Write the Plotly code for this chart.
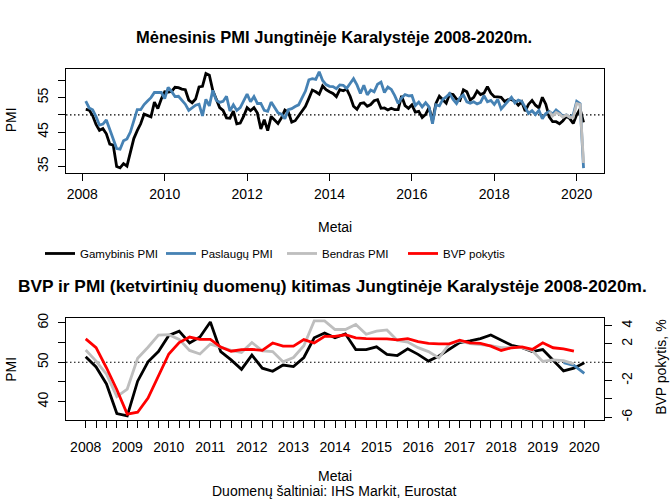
import plotly.graph_objects as go
import pandas as pd

W, H = 670, 502

# ---------------- monthly data (Feb 2008 - Mar 2020) ----------------
months = pd.period_range("2008-02", "2020-03", freq="M")
mfg_m = [
    51.6, 51.4, 49.8, 47.2, 45.5, 46.0, 44.5, 41.5, 41.2, 35.0, 34.6,
    35.8, 35.1, 39.1, 43.1, 45.4, 47.4, 50.2, 49.7, 49.4, 53.7, 51.8, 54.6,
    56.7, 56.6, 56.8, 58.0, 57.9, 57.5, 57.3, 54.3, 53.5, 54.6, 58.1, 58.3,
    62.0, 61.5, 57.1, 54.6, 52.1, 51.3, 49.1, 49.0, 51.1, 47.4, 47.6, 49.6,
    52.1, 51.2, 52.1, 50.5, 45.9, 48.6, 45.4, 49.5, 48.4, 47.5, 49.1, 51.4,
    50.8, 47.9, 48.3, 49.8, 51.3, 52.5, 54.8, 57.2, 56.7, 56.0, 58.4, 57.3,
    56.7, 56.2, 55.3, 57.3, 57.0, 57.5, 55.4, 52.5, 51.6, 53.3, 53.5, 52.5,
    53.0, 54.1, 54.4, 51.9, 52.0, 51.4, 51.9, 51.5, 51.5, 55.5, 52.7, 51.9,
    52.9, 50.8, 51.0, 49.2, 50.1, 52.1, 48.2, 53.3, 55.4, 54.3, 53.4, 56.1,
    55.9, 54.6, 54.2, 57.3, 56.7, 54.3, 55.1, 56.9, 55.9, 56.3, 58.2, 56.3,
    55.3, 55.2, 55.1, 53.9, 54.4, 54.4, 54.0, 52.8, 53.8, 51.1, 53.1, 54.2,
    52.8, 52.0, 55.1, 53.1, 49.4, 48.0, 48.0, 47.4, 48.3, 49.6, 48.9, 47.5,
    50.0, 51.7, 47.8,
]
serv_m = [
    54.0, 52.0, 51.5, 49.5, 47.0, 47.3, 48.5, 46.0, 43.0, 40.2, 40.0,
    42.5, 43.0, 45.0, 48.0, 51.5, 51.5, 53.0, 54.0, 55.0, 56.5, 56.5, 56.5,
    54.7, 58.0, 56.8, 55.3, 55.4, 54.4, 53.1, 51.3, 52.1, 52.8, 53.1, 49.7,
    54.5, 52.6, 57.1, 54.3, 53.6, 53.9, 55.4, 51.1, 52.9, 51.3, 52.1, 54.0,
    56.0, 53.8, 55.3, 53.3, 53.3, 51.3, 51.0, 53.7, 52.2, 50.6, 50.2, 48.9,
    51.5, 51.8, 52.4, 52.9, 54.9, 56.9, 60.2, 60.5, 60.3, 62.5, 60.0, 58.8,
    58.3, 58.2, 57.6, 58.7, 58.6, 57.7, 59.1, 60.5, 58.7, 56.2, 58.6, 55.8,
    57.2, 56.7, 58.9, 59.5, 56.5, 58.1, 57.4, 55.6, 53.3, 54.9, 55.9, 55.5,
    55.6, 52.7, 53.7, 52.3, 53.5, 52.3, 47.4, 52.9, 52.6, 54.5, 55.2, 56.2,
    54.5, 53.3, 55.0, 55.8, 53.8, 53.4, 53.8, 53.2, 53.6, 55.6, 53.8, 54.2,
    53.0, 54.5, 51.7, 52.8, 54.0, 55.1, 53.5, 54.3, 53.9, 52.2, 50.4, 51.2,
    50.1, 51.3, 48.9, 50.4, 51.0, 50.2, 51.4, 50.6, 49.5, 50.0, 49.3, 50.0,
    53.9, 53.2, 34.5,
]
comp_months = pd.period_range("2019-05", "2020-03", freq="M")
comp_m = [50.9, 49.7, 50.7, 50.2, 49.3, 50.0, 49.3, 49.3, 53.3, 53.0, 36.0]

# ---------------- quarterly data ----------------
quarters = pd.period_range("2008Q1", "2020Q1", freq="Q")
mfg_q = [
    51.4, 48.8, 44.5, 37.0,
    36.4, 45.2, 50.1, 52.7,
    56.8, 57.9, 54.9, 56.4,
    60.2, 52.7, 50.6, 48.2,
    51.8, 48.5, 47.7, 49.3,
    48.9, 51.2, 56.2, 57.4,
    56.2, 57.2, 53.2, 53.2,
    53.9, 52.0, 51.7, 53.4,
    52.0, 50.3, 51.6, 53.4,
    55.0, 55.4, 56.0, 56.9,
    55.6, 54.3, 53.7, 52.7,
    53.2, 50.6, 47.8, 48.5,
    49.9,
]
comp_quarters = pd.period_range("2008Q1", "2019Q4", freq="Q")
comp_q = [
    53.1, 50.3, 47.0, 41.3,
    43.2, 51.0, 53.8, 56.9,
    57.0, 55.8, 53.0, 52.1,
    54.6, 53.8, 53.0, 52.5,
    55.0, 52.9, 52.7, 50.1,
    51.2, 54.2, 60.5, 60.5,
    58.3, 58.3, 59.6, 57.1,
    57.9, 58.2, 55.5, 55.1,
    53.7, 52.7, 51.1, 54.6,
    55.4, 54.7, 54.4, 54.2,
    53.7, 53.7, 53.7, 52.9,
    50.2, 50.6, 50.4, 49.6,
]
serv_quarters = pd.period_range("2019Q3", "2020Q1", freq="Q")
serv_q = [49.9, 49.2, 47.2]
gdp_quarters = pd.period_range("2008Q1", "2019Q4", freq="Q")
gdp_q = [
    2.55, 1.6, -0.6, -3.0,
    -5.65, -5.45, -3.9, -1.5,
    0.9, 2.15, 2.75, 2.5,
    2.5, 1.65, 1.2, 1.38,
    1.4, 1.3, 2.1, 1.75,
    1.75, 2.47, 2.1, 2.83,
    2.83, 3.0, 2.65, 2.58,
    2.58, 2.55, 2.44, 2.58,
    2.25, 2.05, 2.0, 2.0,
    2.4, 2.12, 2.05, 1.76,
    1.29, 1.58, 1.68, 1.4,
    2.12, 1.58, 1.47, 1.22,
]

top_years = list(range(2008, 2021, 2))
series_names = ["Gamybinis PMI", "Paslaugų PMI", "Bendras PMI", "BVP pokytis"]
colors = ["#000000", "#4682B4", "#BEBEBE", "#FF0000"]


def mx(periods):
    return [p.year + (p.month - 1) / 12 for p in periods]


def qx(periods):
    return [p.year + (p.quarter - 1) / 4 for p in periods]


def px(x):
    return x / W


def py(y):
    return 1 - y / H


FONT = "Liberation Sans, Arial, sans-serif"
TICK = 14
fig = go.Figure()
LW = 2.8

# top chart
fig.add_trace(go.Scatter(x=mx(months), y=mfg_m, mode="lines", name=series_names[0],
                         line=dict(color=colors[0], width=LW), xaxis="x", yaxis="y",
                         legendrank=1))
fig.add_trace(go.Scatter(x=mx(months), y=serv_m, mode="lines", name=series_names[1],
                         line=dict(color=colors[1], width=LW), xaxis="x", yaxis="y",
                         legendrank=2))
fig.add_trace(go.Scatter(x=mx(comp_months), y=comp_m, mode="lines", name=series_names[2],
                         line=dict(color=colors[2], width=LW), xaxis="x", yaxis="y",
                         legendrank=3))

# bottom chart
fig.add_trace(go.Scatter(x=qx(quarters), y=mfg_q, mode="lines", showlegend=False,
                         line=dict(color=colors[0], width=LW), xaxis="x2", yaxis="y2"))
fig.add_trace(go.Scatter(x=qx(serv_quarters), y=serv_q, mode="lines", showlegend=False,
                         line=dict(color=colors[1], width=LW), xaxis="x2", yaxis="y2"))
fig.add_trace(go.Scatter(x=qx(comp_quarters), y=comp_q, mode="lines", showlegend=False,
                         line=dict(color=colors[2], width=LW), xaxis="x2", yaxis="y2"))
fig.add_trace(go.Scatter(x=qx(gdp_quarters), y=gdp_q, mode="lines", name=series_names[3],
                         line=dict(color=colors[3], width=LW), xaxis="x2", yaxis="y3",
                         legendrank=4))

xdom = [px(66), px(604)]
axis_common = dict(showgrid=False, zeroline=False, showline=True, linecolor="#000000",
                   linewidth=1, mirror=True, ticks="outside", ticklen=7, tickwidth=1,
                   tickcolor="#000000", tickfont=dict(family=FONT, size=TICK, color="#000000"))

quarter_ticks = qx(quarters)
quarter_text = [str(p.year) if p.quarter == 1 else "" for p in quarters]

fig.update_layout(
    width=W, height=H, margin=dict(l=0, r=0, t=0, b=0),
    paper_bgcolor="white", plot_bgcolor="white",
    showlegend=True,
    legend=dict(orientation="h", x=px(40), y=py(252), xanchor="left", yanchor="middle",
                font=dict(family=FONT, size=11.5, color="#000000"),
                entrywidth=76, entrywidthmode="pixels", bgcolor="rgba(0,0,0,0)"),
    xaxis=dict(domain=xdom, anchor="y", range=[2007.604, 2020.663],
               tickvals=top_years, ticktext=[str(y) for y in top_years],
               ticklabelstandoff=2, **axis_common),
    yaxis=dict(domain=[py(170), py(65)], anchor="x", range=[33.2, 63.3],
               tickvals=[35, 40, 45, 50, 55, 60], ticktext=["35", "", "45", "", "55", ""],
               tickangle=-90, ticklabelstandoff=4, **axis_common),
    xaxis2=dict(domain=xdom, anchor="y2", range=[2007.526, 2020.474],
                tickvals=quarter_ticks, ticktext=quarter_text, tickangle=0,
                ticklabelstandoff=7, **axis_common),
    yaxis2=dict(domain=[py(420.7), py(317.3)], anchor="x2", range=[35.4, 61.25],
                tickvals=[40, 45, 50, 55, 60], ticktext=["40", "", "50", "", "60"],
                tickangle=-90, ticklabelstandoff=4, **axis_common),
    yaxis3=dict(overlaying="y2", anchor="x2", side="right", range=[-6.28, 4.84],
                tickvals=[4, 2, 0, -2, -4, -6], ticktext=["4", "2", "", "-2", "", "-6"],
                tickangle=-90, showgrid=False, zeroline=False, showline=False,
                ticks="outside", ticklen=7, tickwidth=1, tickcolor="#000000",
                ticklabelstandoff=3,
                tickfont=dict(family=FONT, size=TICK, color="#000000")),
)

# dotted reference line at PMI 50
for yref, xref in (("y", "x"), ("y2", "x2")):
    fig.add_shape(type="line", xref=xref + " domain", yref=yref, x0=0, x1=1, y0=50, y1=50,
                  line=dict(color="#000000", width=1.2, dash="1.5px,2.5px"), layer="below")

annots = [
    dict(text="<b>Mėnesinis PMI Jungtinėje Karalystėje 2008-2020m.</b>", x=px(334), y=py(32), size=16.5),
    dict(text="<b>BVP ir PMI (ketvirtinių duomenų) kitimas Jungtinėje Karalystėje 2008-2020m.</b>",
         x=px(332), y=py(285), size=17.3),
    dict(text="Metai", x=px(335), y=py(225), size=TICK),
    dict(text="Metai", x=px(335), y=py(478), size=TICK),
    dict(text="Duomenų šaltiniai: IHS Markit, Eurostat", x=px(334), y=py(493), size=TICK),
]
for a in annots:
    fig.add_annotation(text=a["text"], x=a["x"], y=a["y"], xref="paper", yref="paper",
                       showarrow=False, xanchor="center", yanchor="middle",
                       font=dict(family=FONT, size=a["size"], color="#000000"))
for txt, x, y in (("PMI", 11, 117), ("PMI", 11, 370), ("BVP pokytis, %", 661, 368)):
    fig.add_annotation(text=txt, x=px(x), y=py(y), xref="paper", yref="paper",
                       showarrow=False, xanchor="center", yanchor="middle", textangle=-90,
                       font=dict(family=FONT, size=TICK, color="#000000"))

fig.write_html("out.html", post_script="document.body.style.margin='0';",
               config={"displayModeBar": False})
